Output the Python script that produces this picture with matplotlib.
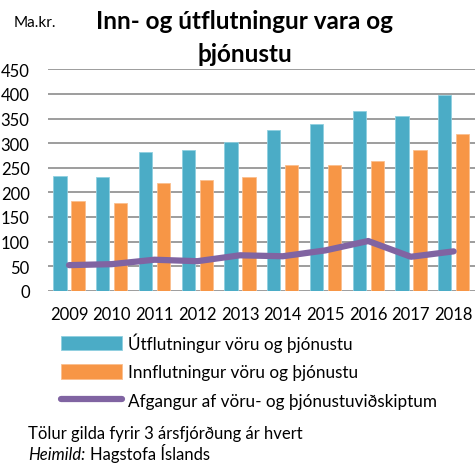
import matplotlib.pyplot as plt
import numpy as np

# gögn lesin af myndinni (ma.kr.)
ar = ['2009', '2010', '2011', '2012', '2013', '2014', '2015', '2016', '2017', '2018']
utflutningur = [234, 232, 282, 285, 303, 326, 338, 365, 355, 398]
innflutningur = [182, 178, 219, 225, 231, 256, 256, 264, 286, 318]
afgangur = [52, 54, 63, 60, 72, 70, 82, 101, 69, 80]

plt.rcParams['font.family'] = ['Lato', 'DejaVu Sans']

fig = plt.figure(figsize=(4.75, 4.64), dpi=100)
ax = fig.add_axes([0.1004, 0.3713, 0.8996, 0.4772])

x = np.arange(len(ar))
breidd = 0.31
s1 = ax.bar(x - 0.21, utflutningur, breidd, color='#4BACC6', edgecolor='#8fd0e0', linewidth=0.6,
            label='Útflutningur vöru og þjónustu', zorder=3)
s2 = ax.bar(x + 0.21, innflutningur, breidd, color='#F79646', edgecolor='#fbbf8e', linewidth=0.6,
            label='Innflutningur vöru og þjónustu', zorder=3)
s3, = ax.plot(x, afgangur, color='#8064A2', linewidth=4.5, solid_capstyle='round',
              label='Afgangur af vöru- og þjónustuviðskiptum', zorder=4)

ax.set_xlim(-0.5, len(ar) - 0.5)
ax.set_ylim(0, 450)
ax.set_yticks(range(0, 451, 50))
ax.set_xticks(x)
ax.set_xticklabels(ar)
ax.grid(axis='y', color='#8c8c8c', linewidth=1.2, zorder=0)
for s in ax.spines.values():
    s.set_visible(False)
ax.tick_params(length=0, labelsize=12, colors='black')
ax.tick_params(axis='y', pad=13)
ax.tick_params(axis='x', pad=11)

fig.text(0.028, 0.950, 'Ma.kr.', fontsize=11, va='center')
fig.text(0.515, 0.918, 'Inn- og útflutningur vara og\nþjónustu', fontsize=17.5, fontweight='bold',
         ha='center', va='center', linespacing=1.5)

fig.legend([s1, s2, s3], [s1.get_label(), s2.get_label(), s3.get_label()],
           loc='upper left', bbox_to_anchor=(0.128, 0.281), frameon=False,
           fontsize=12.3, handlelength=3.6, handleheight=0.9, labelspacing=0.72,
           handletextpad=0.35, borderaxespad=0, borderpad=0)

fig.text(0.059, 0.054, 'Tölur gilda fyrir 3 ársfjórðung ár hvert', fontsize=12, va='baseline')
t = fig.text(0.059, 0.008, 'Heimild:', fontsize=12, va='baseline', style='italic')
r = fig.canvas.get_renderer()
bb = t.get_window_extent(r)
fig.text((bb.x1 + 5) / fig.bbox.width, 0.008, 'Hagstofa Íslands', fontsize=12, va='baseline')

fig.savefig('out.png', dpi=100)
